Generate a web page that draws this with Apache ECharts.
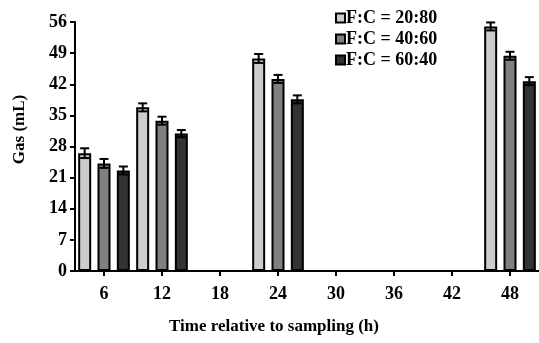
<!DOCTYPE html>
<html>
<head>
<meta charset="utf-8">
<script src="https://cdn.jsdelivr.net/npm/echarts@6/dist/echarts.min.js"></script>
<style>html,body{margin:0;padding:0;background:#fff;}#c{width:539px;height:343px;}</style>
</head>
<body>
<div id="c"></div>
<script>
// ---- data ----
var seriesNames = ['F:C = 20:80', 'F:C = 40:60', 'F:C = 60:40'];
var xLight  = [4, 10, 22, 46];
var xMedium = [6, 12, 24, 48];
var xDark   = [8, 14, 26, 50];
var gasLight  = [26.5, 36.8, 47.8, 55.0];
var gasMedium = [24.2, 33.8, 43.2, 48.4];
var gasDark   = [22.6, 30.9, 38.6, 42.7];
var errLight  = [1.1, 0.9, 1.0, 0.9];
var errMedium = [1.0, 0.9, 0.9, 0.9];
var errDark   = [0.9, 0.8, 0.9, 0.9];
var xTicks = [6, 12, 18, 24, 30, 36, 42, 48];

var FONT = "'Liberation Serif', 'Times New Roman', serif";
var colors = ['#cccccc', '#808080', '#333333'];

function pairs(xs, ys) { return xs.map(function (x, i) { return [x, ys[i]]; }); }
function errData(xs, ys, es) { return xs.map(function (x, i) { return [x, ys[i] - es[i], ys[i] + es[i]]; }); }

var xs = [xLight, xMedium, xDark];
var ys = [gasLight, gasMedium, gasDark];

var series = [];
for (var k = 0; k < 3; k++) {
  series.push({
    name: seriesNames[k],
    type: 'bar',
    barWidth: 13,
    barGap: '-100%',
    data: pairs(xs[k], ys[k]),
    itemStyle: { color: colors[k], borderColor: '#000', borderWidth: 2 },
    z: 2
  });
}
series.push({
  type: 'custom',
  name: 'err',
  z: 5,
  data: [].concat(errData(xLight, gasLight, errLight), errData(xMedium, gasMedium, errMedium), errData(xDark, gasDark, errDark)),
  encode: { x: 0, y: [1, 2] },
  renderItem: function (params, api) {
    var lo = api.coord([api.value(0), api.value(1)]);
    var hi = api.coord([api.value(0), api.value(2)]);
    var hw = 4.5;
    var st = { stroke: '#000', lineWidth: 2, fill: null };
    return {
      type: 'group',
      children: [
        { type: 'line', shape: { x1: hi[0], y1: hi[1], x2: lo[0], y2: lo[1] }, style: st },
        { type: 'line', shape: { x1: hi[0] - hw, y1: hi[1], x2: hi[0] + hw, y2: hi[1] }, style: st },
        { type: 'line', shape: { x1: lo[0] - hw, y1: lo[1], x2: lo[0] + hw, y2: lo[1] }, style: st }
      ]
    };
  }
});

var chart = echarts.init(document.getElementById('c'), null, { renderer: 'canvas' });
chart.setOption({
  animation: false,
  backgroundColor: '#fff',
  textStyle: { fontFamily: FONT },
  grid: { left: 75, right: -5, top: 22, bottom: 72, containLabel: false },
  legend: {
    data: seriesNames,
    orient: 'vertical',
    left: 330,
    top: 4,
    itemWidth: 9,
    itemHeight: 9,
    itemGap: 3,
    icon: 'rect',
    textStyle: { fontFamily: FONT, fontWeight: 'bold', fontSize: 18, color: '#000', padding: [0, 0, 0, -4] }
  },
  xAxis: {
    type: 'value',
    min: 3,
    max: 51,
    name: 'Time relative to sampling (h)',
    nameLocation: 'middle',
    nameGap: 47,
    nameTextStyle: { fontFamily: FONT, fontWeight: 'bold', fontSize: 17, color: '#000', padding: [0, 66, 0, 0] },
    splitLine: { show: false },
    axisLine: { show: true, lineStyle: { color: '#000', width: 2 } },
    axisTick: { show: true, customValues: xTicks, length: 5, lineStyle: { color: '#000', width: 2 } },
    axisLabel: { customValues: xTicks, margin: 14, fontFamily: FONT, fontWeight: 'bold', fontSize: 18, color: '#000' }
  },
  yAxis: {
    type: 'value',
    min: 0,
    max: 56,
    interval: 7,
    name: 'Gas (mL)',
    nameLocation: 'middle',
    nameGap: 47,
    nameTextStyle: { fontFamily: FONT, fontWeight: 'bold', fontSize: 17, color: '#000', padding: [0, 0, 0, 34] },
    splitLine: { show: false },
    axisLine: { show: true, lineStyle: { color: '#000', width: 2 } },
    axisTick: { show: true, length: 5, lineStyle: { color: '#000', width: 2 } },
    axisLabel: { margin: 8, fontFamily: FONT, fontWeight: 'bold', fontSize: 18, color: '#000' }
  },
  series: series
});
</script>
</body>
</html>
